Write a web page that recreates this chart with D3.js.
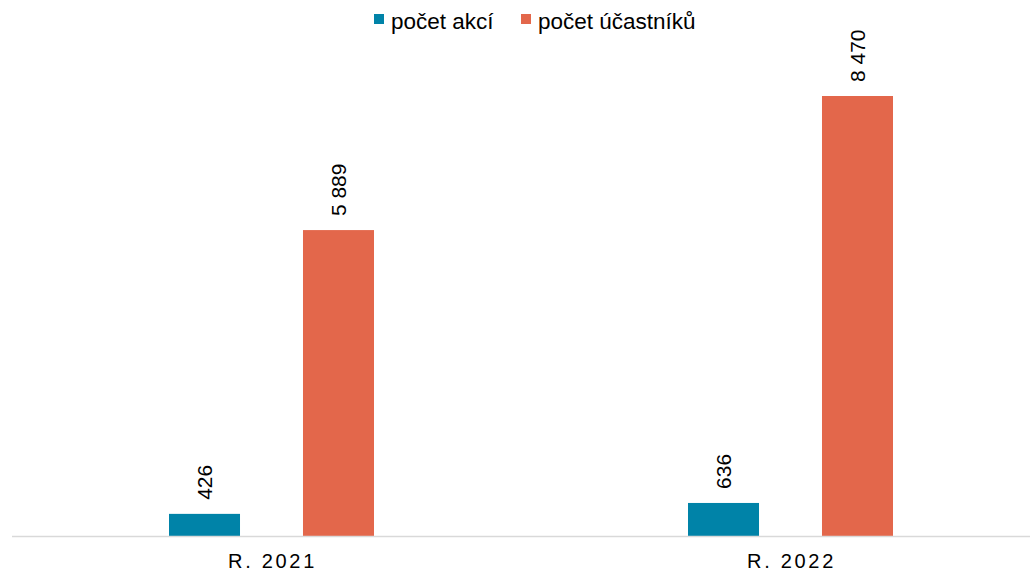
<!DOCTYPE html>
<html>
<head>
<meta charset="utf-8">
<script src="https://cdn.jsdelivr.net/npm/d3@7"></script>
<style>
body { margin: 0; background: #fff; }
svg { display: block; font-family: "Liberation Sans", Arial, sans-serif; }
</style>
</head>
<body>
<div id="chart"></div>
<script>
var categories = ["R. 2021", "R. 2022"];
var seriesNames = ["počet akcí", "počet účastníků"];
var akce = [426, 636];
var ucastnici = [5889, 8470];

var colors = ["#0083a8", "#e3674b"];
var width = 1030, height = 576;
var baseY = 536;

var svg = d3.select("#chart").append("svg")
	.attr("width", width)
	.attr("height", height);

var x0 = d3.scaleBand()
	.domain(categories)
	.range([12, 1050]);

var x1 = d3.scaleBand()
	.domain(seriesNames)
	.range([0, 205])
	.paddingInner(0.47);

var y = d3.scaleLinear()
	.domain([0, 8470])
	.range([baseY, 96]);

var rows = categories.map(function (c, i) {
	return { cat: c, values: [akce[i], ucastnici[i]] };
});

var groups = svg.selectAll("g.group")
	.data(rows)
	.enter().append("g")
	.attr("class", "group")
	.attr("transform", function (d) {
		return "translate(" + (x0(d.cat) + x0.bandwidth() / 2 - 102.5) + ",0)";
	});

groups.selectAll("rect")
	.data(function (d) { return d.values.map(function (v, j) { return { name: seriesNames[j], v: v, j: j }; }); })
	.enter().append("rect")
	.attr("x", function (d) { return x1(d.name); })
	.attr("y", function (d) { return y(d.v); })
	.attr("width", x1.bandwidth())
	.attr("height", function (d) { return baseY - y(d.v); })
	.attr("fill", function (d) { return colors[d.j]; });

var fmt = function (v) {
	return d3.format(",")(v).replace(/,/g, "\u00a0");
};

groups.selectAll("text.lbl")
	.data(function (d) { return d.values.map(function (v, j) { return { name: seriesNames[j], v: v }; }); })
	.enter().append("text")
	.attr("class", "lbl")
	.attr("transform", function (d) {
		var cx = x1(d.name) + x1.bandwidth() / 2;
		return "translate(" + (cx + 7.5) + "," + (y(d.v) - 14) + ") rotate(-90)";
	})
	.attr("font-size", 21)
	.attr("fill", "#000")
	.text(function (d) { return fmt(d.v); });

// axis line
svg.append("line")
	.attr("x1", 12).attr("x2", width)
	.attr("y1", baseY + 0.5).attr("y2", baseY + 0.5)
	.attr("stroke", "#d9d9d9")
	.attr("stroke-width", 1.5);

svg.selectAll("text.tick")
	.data(categories)
	.enter().append("text")
	.attr("class", "tick")
	.attr("x", function (d) { return x0(d) + x0.bandwidth() / 2 + 1; })
	.attr("y", 568)
	.attr("text-anchor", "middle")
	.attr("font-size", 20)
	.attr("letter-spacing", 2.7)
	.attr("fill", "#000")
	.text(function (d) { return d; });

// legend
var legendX = [374, 521];
var legend = svg.selectAll("g.legend")
	.data(seriesNames)
	.enter().append("g")
	.attr("class", "legend")
	.attr("transform", function (d, i) { return "translate(" + legendX[i] + ",0)"; });

legend.append("rect")
	.attr("x", 0).attr("y", 14)
	.attr("width", 10).attr("height", 10)
	.attr("fill", function (d, i) { return colors[i]; });

legend.append("text")
	.attr("x", 17).attr("y", 29)
	.attr("font-size", 22.5)
	.attr("fill", "#000")
	.text(function (d) { return d; });
</script>
</body>
</html>
